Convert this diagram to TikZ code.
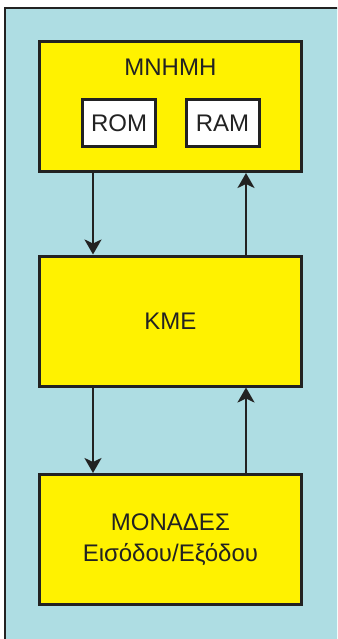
\documentclass[tikz,border=0pt]{standalone}
\usepackage{fontspec}
\setmainfont{Liberation Sans}
\usepackage{xcolor}
\usetikzlibrary{arrows.meta,positioning}

\definecolor{bgcyan}{HTML}{AEDDE3}
\definecolor{boxyellow}{HTML}{FFF200}
\definecolor{edge}{HTML}{222222}

\begin{document}
\begin{tikzpicture}[x=1pt,y=-1pt,
        unit/.style={draw=edge, line width=3pt, fill=boxyellow, minimum width=262pt, minimum height=130pt, inner sep=0pt, font=\fontsize{24}{28}\selectfont, text=edge, align=center},
        chip/.style={draw=edge, line width=3pt, fill=white, minimum width=73pt, minimum height=47pt, inner sep=0pt, font=\fontsize{24}{28}\selectfont, text=edge},
        flow/.style={draw=edge, line width=2.3pt, -{Stealth[length=15pt,width=17pt,inset=4pt]}}]
        \useasboundingbox (0,0) rectangle (337,639) ;
        \clip (0,0) rectangle (337,639) ;

        % frame
        \fill[bgcyan] (5,8) rectangle (345,650) ;
        \draw[edge, line width=2.5pt] (5,650) -- (5,8) -- (345,8) ;

        \node[unit, text depth=78pt] (MEM) at (170.4,106.5) {ΜΝΗΜΗ} ;
        \node[chip] (ROM) at (119,123) {ROM} ;
        \node[chip] (RAM) at (222.5,123) {RAM} ;

        \node[unit] (CPU) at (170.4,321) {ΚΜΕ} ;

        \node[unit] (IO) at (170.4,539.5) {ΜΟΝΑΔΕΣ\\[3pt]Εισόδου/Εξόδου} ;

        \draw[flow] (MEM.south -| ROM.center) ++(-26,0) coordinate (m1) -- (m1 |- CPU.north) ;
        \draw[flow] (CPU.north -| RAM.center) ++(23.5,0) coordinate (m2) -- (m2 |- MEM.south) ;
        \draw[flow] (CPU.south -| m1) -- (IO.north -| m1) ;
        \draw[flow] (IO.north -| m2) -- (CPU.south -| m2) ;
    \end{tikzpicture}
\end{document}
